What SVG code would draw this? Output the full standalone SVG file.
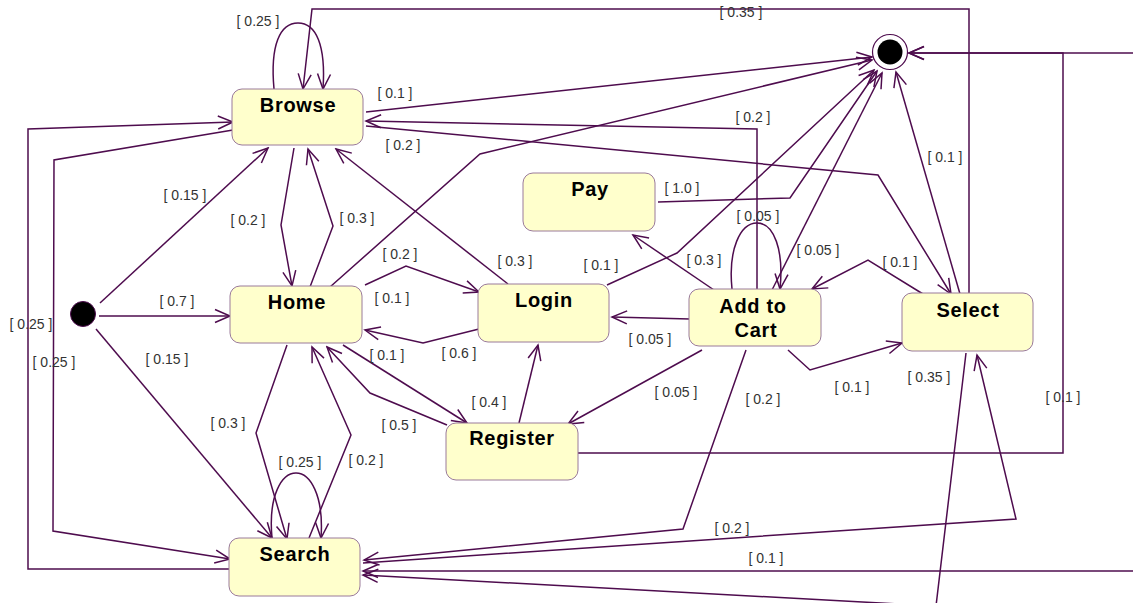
<svg xmlns="http://www.w3.org/2000/svg" width="1133" height="603" viewBox="0 0 1133 603">
<defs>
<style>
.node{fill:#FFFFCC;stroke:#9a7a9a;stroke-width:1}
.nl{font-family:"Liberation Sans",Arial,sans-serif;font-size:20px;font-weight:bold;fill:#000;text-anchor:middle;letter-spacing:0.7px}
.e{fill:none;stroke:#4e0c4e;stroke-width:1.5;marker-end:url(#arr)}
.lb{font-family:"Liberation Sans",Arial,sans-serif;font-size:14px;fill:#333;text-anchor:middle}
</style>
<marker id="arr" markerUnits="userSpaceOnUse" markerWidth="18" markerHeight="16" viewBox="0 0 18 16" refX="16" refY="8" orient="auto">
<path d="M1,1.5 L16,8 L1,14.5" fill="none" stroke="#4e0c4e" stroke-width="1.5"/>
</marker>
</defs>
<rect width="1133" height="603" fill="#fff"/>

<g id="connectors">
<path class="e" d="M100,303 L268,148"/>
<path class="e" d="M99,316 L230,316"/>
<path class="e" d="M96,329 L272,538"/>
<path class="e" d="M274,89 C270,45 280,23 298,23 C316,23 326,45 323,89"/>
<path class="e" d="M969,294 L969,9 L312,9 L303,89"/>
<path class="e" d="M366,112 L872,57"/>
<path class="e" d="M757,289 L757,129 L366,121"/>
<path class="e" d="M366,126 L878,175 L951,294"/>
<path class="e" d="M330,287 L480,154 L872,60"/>
<path class="e" d="M508,284 L336,149"/>
<path class="e" d="M294,148 L281,225 L292,286"/>
<path class="e" d="M310,287 L333,226 L308,149"/>
<path class="e" d="M229,569 L28,569 L28,129 L233,122"/>
<path class="e" d="M233,130 L54,160 L53,531 L230,559"/>
<path class="e" d="M287,345 L256,433 L287,539"/>
<path class="e" d="M309,538 L351,435 L312,347"/>
<path class="e" d="M272,538 C268,495 282,473 296,473 C310,473 324,495 321,538"/>
<path class="e" d="M365,285 L406,266 L479,292"/>
<path class="e" d="M479,329 L423,343 L365,330"/>
<path class="e" d="M343,345 L467,423"/>
<path class="e" d="M447,425 L370,393 L327,347"/>
<path class="e" d="M519,423 L538,345"/>
<path class="e" d="M607,285 L677,253 L874,70"/>
<path class="e" d="M658,202 L790,198 L877,71"/>
<path class="e" d="M772,290 L882,73"/>
<path class="e" d="M960,294 L896,72"/>
<path class="e" d="M732,289 C728,250 740,223 757,223 C774,223 784,250 780,289"/>
<path class="e" d="M714,290 L633,235"/>
<path class="e" d="M690,319 L612,317"/>
<path class="e" d="M702,350 L568,424"/>
<path class="e" d="M746,350 L683,529 L364,560"/>
<path class="e" d="M363,563 L1016,519 L977,355"/>
<path class="e" d="M788,350 L810,370 L902,343"/>
<path class="e" d="M923,294 L868,260 L812,289"/>
<path class="e" d="M578,453 L1063,453 L1063,53 L909,53"/>
<path class="e" d="M1140,53 L909,53"/>
<path class="e" d="M1140,571 L363,571"/>
<path class="e" d="M966,353 L936,606 L363,575"/>
</g>

<g id="labels">
<text class="lb" x="258" y="26">[ 0.25 ]</text>
<text class="lb" x="741" y="17">[ 0.35 ]</text>
<text class="lb" x="395" y="98">[ 0.1 ]</text>
<text class="lb" x="403" y="150">[ 0.2 ]</text>
<text class="lb" x="753" y="122">[ 0.2 ]</text>
<text class="lb" x="945" y="162">[ 0.1 ]</text>
<text class="lb" x="185" y="200">[ 0.15 ]</text>
<text class="lb" x="248" y="225">[ 0.2 ]</text>
<text class="lb" x="357" y="223">[ 0.3 ]</text>
<text class="lb" x="682" y="193">[ 1.0 ]</text>
<text class="lb" x="758" y="221">[ 0.05 ]</text>
<text class="lb" x="818" y="255">[ 0.05 ]</text>
<text class="lb" x="900" y="267">[ 0.1 ]</text>
<text class="lb" x="515" y="266">[ 0.3 ]</text>
<text class="lb" x="601" y="270">[ 0.1 ]</text>
<text class="lb" x="704" y="265">[ 0.3 ]</text>
<text class="lb" x="400" y="259">[ 0.2 ]</text>
<text class="lb" x="392" y="303">[ 0.1 ]</text>
<text class="lb" x="177" y="306">[ 0.7 ]</text>
<text class="lb" x="31" y="329">[ 0.25 ]</text>
<text class="lb" x="54" y="367">[ 0.25 ]</text>
<text class="lb" x="167" y="364">[ 0.15 ]</text>
<text class="lb" x="650" y="344">[ 0.05 ]</text>
<text class="lb" x="459" y="358">[ 0.6 ]</text>
<text class="lb" x="387" y="360">[ 0.1 ]</text>
<text class="lb" x="929" y="382">[ 0.35 ]</text>
<text class="lb" x="852" y="392">[ 0.1 ]</text>
<text class="lb" x="676" y="397">[ 0.05 ]</text>
<text class="lb" x="763" y="404">[ 0.2 ]</text>
<text class="lb" x="1063" y="402">[ 0.1 ]</text>
<text class="lb" x="489" y="407">[ 0.4 ]</text>
<text class="lb" x="399" y="430">[ 0.5 ]</text>
<text class="lb" x="228" y="428">[ 0.3 ]</text>
<text class="lb" x="300" y="467">[ 0.25 ]</text>
<text class="lb" x="366" y="465">[ 0.2 ]</text>
<text class="lb" x="732" y="533">[ 0.2 ]</text>
<text class="lb" x="766" y="563">[ 0.1 ]</text>
</g>

<g id="initial"><circle cx="83" cy="314" r="12.5" fill="#000" stroke="#4e0c4e" stroke-width="1"/></g>
<g id="final"><circle cx="890" cy="52" r="17.5" fill="#fff" stroke="#4e0c4e" stroke-width="1.2"/><circle cx="890" cy="52" r="12.5" fill="#000"/></g>

<g id="browse"><rect class="node" x="232" y="89" width="131" height="56" rx="10"/><text class="nl" x="298" y="112">Browse</text></g>
<g id="home"><rect class="node" x="230" y="286" width="132" height="57" rx="10"/><text class="nl" x="297" y="309">Home</text></g>
<g id="search"><rect class="node" x="229" y="538" width="131" height="58" rx="10"/><text class="nl" x="295" y="561">Search</text></g>
<g id="pay"><rect class="node" x="523" y="173" width="132" height="58" rx="10"/><text class="nl" x="590" y="196">Pay</text></g>
<g id="login"><rect class="node" x="478" y="284" width="131" height="58" rx="10"/><text class="nl" x="544" y="307">Login</text></g>
<g id="addtocart"><rect class="node" x="689" y="289" width="132" height="57" rx="10"/><text class="nl" x="753" y="313">Add to</text><text class="nl" x="756" y="337">Cart</text></g>
<g id="select"><rect class="node" x="902" y="293" width="131" height="58" rx="10"/><text class="nl" x="968" y="317">Select</text></g>
<g id="register"><rect class="node" x="446" y="423" width="132" height="57" rx="10"/><text class="nl" x="512" y="445">Register</text></g>
</svg>
